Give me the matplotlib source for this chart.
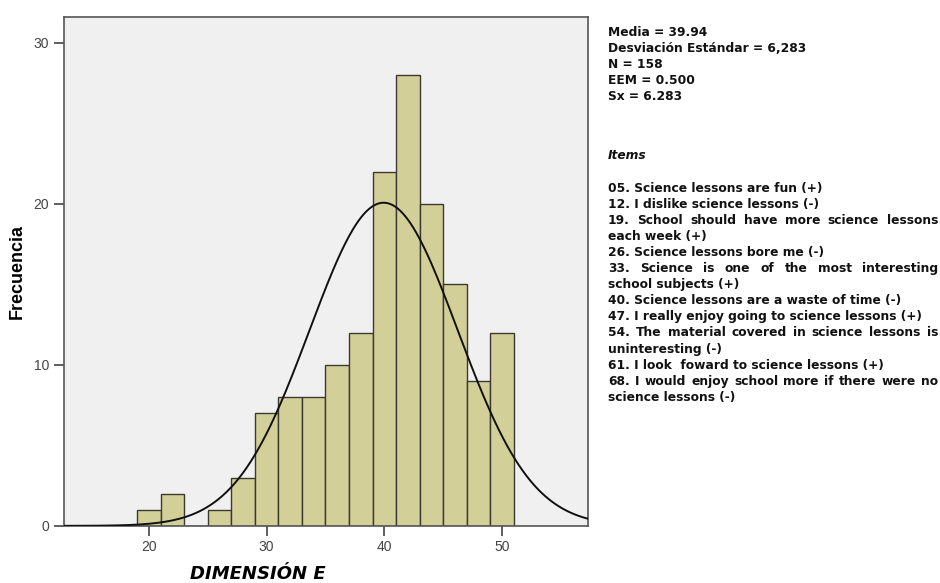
import matplotlib

matplotlib.use("Agg")
import matplotlib.pyplot as plt
import numpy as np

# histogram of DIMENSIÓN E (bin width 2)
bin_edges = [19, 21, 23, 25, 27, 29, 31, 33, 35, 37, 39, 41, 43, 45, 47, 49, 51]
counts = [1, 2, 0, 1, 3, 7, 8, 8, 10, 12, 22, 28, 20, 15, 9, 12]

mean, sd, n = 39.94, 6.283, 158

stats_lines = ["Media = 39.94", "Desviación Estándar = 6,283", "N = 158",
               "EEM = 0.500", "Sx = 6.283"]
item_lines = [
    "05. Science lessons are fun (+)",
    "12. I dislike science lessons (-)",
    "19. School should have more science lessons",
    "each week (+)",
    "26. Science lessons bore me (-)",
    "33. Science is one of the most interesting",
    "school subjects (+)",
    "40. Science lessons are a waste of time (-)",
    "47. I really enjoy going to science lessons (+)",
    "54. The material covered in science lessons is",
    "uninteresting (-)",
    "61. I look  foward to science lessons (+)",
    "68. I would enjoy school more if there were no",
    "science lessons (-)",
]
justified = {2, 5, 9, 12}

fig = plt.figure(figsize=(9.4, 5.83), dpi=100)
ax = fig.add_axes([0.068, 0.098, 0.5575, 0.873])
ax.set_facecolor("#f0f0f0")

widths = np.diff(bin_edges)
ax.bar(bin_edges[:-1], counts, width=widths, align="edge",
       color="#d3cf98", edgecolor="#3a3a30", linewidth=1.0, zorder=2)

# normal curve from the reported mean / sd, scaled to counts
xs = np.linspace(12.78, 57.3, 400)
pdf = n * 2 / (sd * np.sqrt(2 * np.pi)) * np.exp(-0.5 * ((xs - mean) / sd) ** 2)
ax.plot(xs, pdf, color="#111111", lw=1.4, zorder=3)

ax.set_xlim(12.78, 57.3)
ax.set_ylim(0, 31.6)
ax.set_xticks([20, 30, 40, 50])
ax.set_yticks([0, 10, 20, 30])
for s in ax.spines.values():
    s.set_color("#555555"); s.set_linewidth(1.2)
ax.tick_params(direction="out", length=7, width=1.2, color="#444444",
               labelcolor="#444444", labelsize=10)
for lab in ax.get_xticklabels() + ax.get_yticklabels():
    lab.set_family("Liberation Sans")

ax.set_ylabel("Frecuencia", family="Liberation Sans", fontweight="bold",
              fontsize=13, labelpad=6)
fig.text(258 / 940, 1 - 574 / 583, "DIMENSIÓN E", ha="center", va="center",
         fontsize=13, fontweight="bold", style="italic", family="DejaVu Sans")

x0 = 608 / 940
x1 = 938 / 940
fs = 8.8
for i, t in enumerate(stats_lines):
    fig.text(x0, 1 - (33 + 16 * i) / 583, t, fontsize=fs, fontweight="bold",
             va="center", color="#111111")
fig.text(x0, 1 - 155 / 583, "Items", fontsize=fs, fontweight="bold",
         style="italic", va="center", color="#111111")

fig.canvas.draw()
r = fig.canvas.get_renderer()
for i, t in enumerate(item_lines):
    y = 1 - (188 + 16.1 * i) / 583
    if i in justified:
        words = t.split()
        objs = [fig.text(0, y, w, fontsize=fs, fontweight="bold", va="center",
                         color="#111111") for w in words]
        wpx = [o.get_window_extent(r).width / 940 for o in objs]
        gap = (x1 - x0 - sum(wpx)) / (len(words) - 1)
        pos = x0
        for o, w in zip(objs, wpx):
            o.set_x(pos)
            pos += w + gap
    else:
        fig.text(x0, y, t, fontsize=fs, fontweight="bold", va="center",
                 color="#111111")

fig.savefig("out.png", dpi=100)
